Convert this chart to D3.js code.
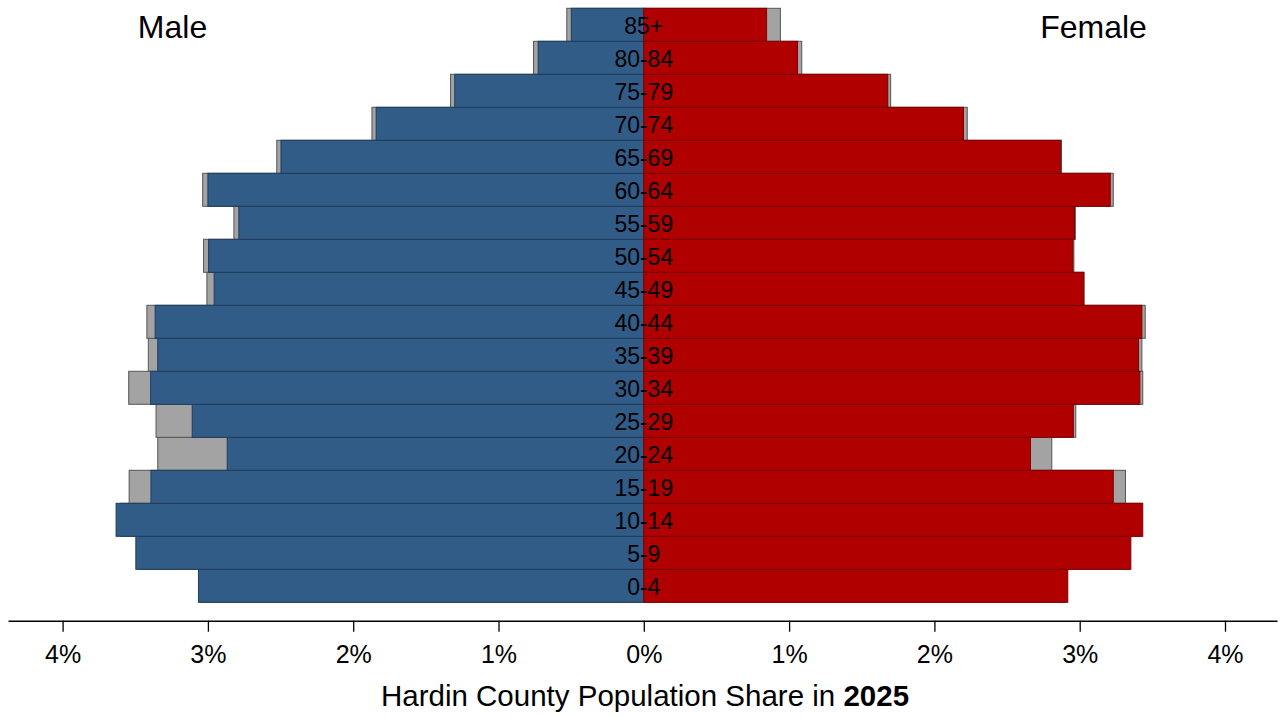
<!DOCTYPE html>
<html>
<head>
<meta charset="utf-8">
<script src="https://cdn.jsdelivr.net/npm/d3@7"></script>
<style>
  html, body { margin: 0; padding: 0; background: #fff; }
  svg { display: block; }
  text { font-family: "Liberation Sans", Arial, sans-serif; fill: #000; }
</style>
</head>
<body>
<svg id="chart" width="1281" height="717"></svg>
<script>
// Age groups, bottom to top
const ageGroups = ["0-4","5-9","10-14","15-19","20-24","25-29","30-34","35-39","40-44",
                   "45-49","50-54","55-59","60-64","65-69","70-74","75-79","80-84","85+"];
// Male share (%) in 2025 (blue)
const male2025 = [3.065,3.496,3.632,3.392,2.867,3.108,3.394,3.345,3.363,
                  2.957,2.995,2.787,3.000,2.497,1.842,1.301,0.727,0.499];
// Male comparison share (%) (gray)
const maleCompare = [3.050,3.480,3.600,3.542,3.345,3.357,3.545,3.410,3.420,
                     3.007,3.030,2.821,3.036,2.526,1.871,1.330,0.759,0.530];
// Female share (%) in 2025 (red)
const female2025 = [2.918,3.352,3.434,3.231,2.661,2.956,3.414,3.405,3.428,
                    3.028,2.953,2.964,3.210,2.869,2.200,1.679,1.058,0.845];
// Female comparison share (%) (gray)
const femaleCompare = [2.900,3.340,3.420,3.315,2.808,2.973,3.434,3.428,3.451,
                       3.030,2.960,2.970,3.231,2.875,2.226,1.699,1.087,0.940];
// Axis ticks
const tickValues = [-4,-3,-2,-1,0,1,2,3,4];

const svg = d3.select("#chart");
const center = 643.8, pxPerPct = 145.3;

// Signed scale: negative = male, positive = female
const x = d3.scaleLinear()
  .domain([-(center - 8) / pxPerPct, (1277 - center) / pxPerPct])
  .range([8, 1277]);

const y = d3.scaleBand()
  .domain(ageGroups.slice().reverse())
  .range([8.3, 602.3])
  .padding(0);

const rows = ageGroups.map((a, i) => ({
  age: a, m: male2025[i], mc: maleCompare[i], f: female2025[i], fc: femaleCompare[i]
}));

const blue = "#315C87", blueStroke = "#1f3d5c";
const red = "#B00000", redStroke = "#7a0000";
const gray = "#A3A3A3", grayStroke = "#555";

const g = svg.append("g");

// Gray comparison bars (behind)
g.selectAll("rect.mc").data(rows).join("rect")
  .attr("x", d => x(-d.mc)).attr("y", d => y(d.age))
  .attr("width", d => x(0) - x(-d.mc)).attr("height", y.bandwidth())
  .attr("fill", gray).attr("stroke", grayStroke).attr("stroke-width", 1);
g.selectAll("rect.fc").data(rows).join("rect")
  .attr("x", x(0)).attr("y", d => y(d.age))
  .attr("width", d => x(d.fc) - x(0)).attr("height", y.bandwidth())
  .attr("fill", gray).attr("stroke", grayStroke).attr("stroke-width", 1);

// Male bars
g.selectAll("rect.m").data(rows).join("rect")
  .attr("x", d => x(-d.m)).attr("y", d => y(d.age))
  .attr("width", d => x(0) - x(-d.m)).attr("height", y.bandwidth())
  .attr("fill", blue).attr("stroke", blueStroke).attr("stroke-width", 1);
// Female bars
g.selectAll("rect.f").data(rows).join("rect")
  .attr("x", x(0)).attr("y", d => y(d.age))
  .attr("width", d => x(d.f) - x(0)).attr("height", y.bandwidth())
  .attr("fill", red).attr("stroke", redStroke).attr("stroke-width", 1);

// Age labels
g.selectAll("text.age").data(rows).join("text")
  .attr("x", x(0)).attr("y", d => y(d.age) + y.bandwidth() / 2 + 1)
  .attr("text-anchor", "middle").attr("dominant-baseline", "central")
  .style("font-size", "23px")
  .text(d => d.age);

// Axis
const axis = d3.axisBottom(x)
  .tickValues(tickValues)
  .tickSize(11)
  .tickSizeOuter(0)
  .tickPadding(14)
  .tickFormat(d => Math.abs(d) + "%");
const ax = svg.append("g").attr("transform", "translate(0,620.7)").call(axis);
ax.select(".domain").attr("stroke", "#000").attr("stroke-width", 1.6);
ax.selectAll(".tick line").attr("stroke", "#000").attr("stroke-width", 1.3);
ax.selectAll(".tick text")
  .style("font-size", "25px").style("font-family", "'Liberation Sans', Arial, sans-serif")
  .attr("fill", "#000");

// Side labels
svg.append("text").attr("x", 172.5).attr("y", 38).attr("text-anchor", "middle")
  .style("font-size", "32px").text("Male");
svg.append("text").attr("x", 1093.5).attr("y", 38).attr("text-anchor", "middle")
  .style("font-size", "32px").text("Female");

// Title
const t = svg.append("text").attr("x", 645).attr("y", 706).attr("text-anchor", "middle")
  .style("font-size", "29.5px");
t.append("tspan").text("Hardin County Population Share in ");
t.append("tspan").style("font-weight", "bold").text("2025");
</script>
</body>
</html>
